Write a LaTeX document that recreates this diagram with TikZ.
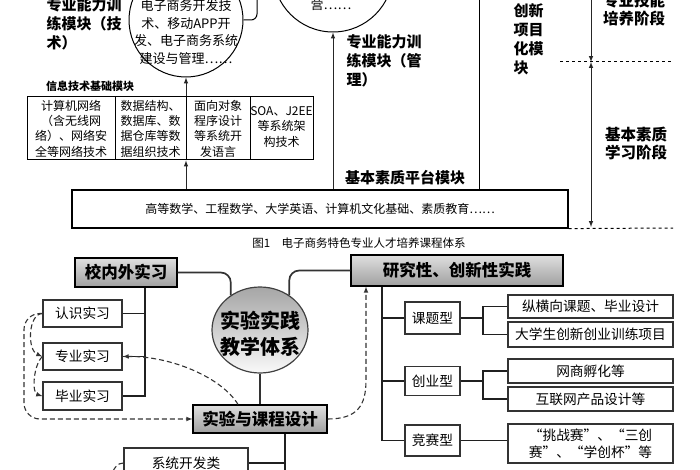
\documentclass[tikz,border=0pt]{standalone}
\usepackage{fontspec}
\setmainfont{Noto Sans CJK SC}
\usetikzlibrary{shapes.geometric}

\newcommand{\pxfont}[2]{\fontsize{#1}{#2}\selectfont}

\tikzset{
  lbl/.style={font=\pxfont{15}{19}\bfseries},
  cell/.style={align=center, font=\pxfont{12}{15.3}},
  arr/.style={-latex, line width=1pt, black!85},
  headbox/.style={draw=black, line width=1.2pt, top color=gray!25, bottom color=gray!75, inner sep=0, font=\pxfont{16.5}{20}\bfseries},
  typebox/.style={draw=gray!40!black, line width=1.3pt, fill=white, inner sep=0, font=\pxfont{13.7}{17}},
  leafbox/.style={typebox, minimum width=165},
  link/.style={line width=1.7pt, black!80},
  twig/.style={line width=1.1pt, gray!25!black},
  dlink/.style={-latex, line width=1.1pt, black!80, dash pattern=on 5pt off 3pt}
}

\begin{document}
\begin{tikzpicture}[x=1pt, y=-1pt]
\useasboundingbox (0,0) rectangle (700,470);

\coordinate (colit) at (186,0);
\coordinate (colmg) at (333,0);
\coordinate (colinn) at (479,-5);
\coordinate (techtop) at (257,-5);

\node (techlbl) at (43,24) [anchor=west, align=left, lbl] {专业能力训\\练模块（技\\术）};
\node (circtech) at (186,20) [circle, draw, line width=1pt, minimum size=114, inner sep=0] {};
\node (techtxt) at (186,32) [align=center, font=\pxfont{13}{17.5}] {电子商务开发技\\术、移动APP开\\发、电子商务系统\\建设与管理……};
\draw [line width=1pt, rounded corners=6] (circtech.east) -| (techtop);

\node (circmgmt) at (333,-28) [circle, draw, line width=1pt, minimum size=120, inner sep=0] {};
\node (mgmttxt) at (331,5) [font=\pxfont{13}{17.5}] {营……};
\node (mgmtlbl) at (343,61) [anchor=west, align=left, lbl] {专业能力训\\练模块（管\\理）};

\node (ittitle) at (90,86) [font=\pxfont{11}{13}\bfseries] {信息技术基础模块};
\node (itable) at (170,128.5) [draw, line width=1pt, minimum width=286, minimum height=63, inner sep=0] {};
\foreach \x in {115,186,250}
  \draw [line width=1pt] (\x,97) -- (\x,160);
\node (cnet) at (71,128.5) [cell] {计算机网络\\（含无线网\\络）、网络安\\全等网络技术};
\node (cdata) at (150.5,128.5) [cell] {数据结构、\\数据库、数\\据仓库等数\\据组织技术};
\node (coop) at (218,128.5) [cell] {面向对象\\程序设计\\等系统开\\发语言};
\node (csoa) at (281.5,127) [cell] {SOA、J2EE\\等系统架\\构技术};

\node (basebox) at (320,209) [draw, line width=1.2pt, minimum width=496, minimum height=38, font=\pxfont{12}{14}] {高等数学、工程数学、大学英语、计算机文化基础、素质教育……};
\node (platlbl) at (405,178) [lbl] {基本素质平台模块};

\draw [arr] (basebox.north -| colit) -- (itable.south -| colit);
\draw [arr] (itable.north -| colit) -- (circtech.south);
\draw [arr] (basebox.north -| colmg) -- (circmgmt.south);
\draw [line width=1pt] (basebox.north -| colinn) -- (colinn);

\node (innolbl) at (510,39) [anchor=west, align=left, font=\pxfont{15}{19}\bfseries] {创新\\项目\\化模\\块};

\coordinate (stgtop) at (591,-5);
\coordinate (stgmid) at (591,62);
\coordinate (stgbot) at (591,227);
\draw [arr] (stgtop) -- (stgmid);
\draw [arr, latex-latex] (stgmid) -- (stgbot);
\draw [line width=1pt, dashed] (560,62) -- (673,62);
\draw [line width=1pt, dashed] (basebox.south east) -- (673,228);
\node (stgskill) at (634,10) [align=center, font=\pxfont{15.5}{18}\bfseries] {专业技能\\培养阶段};
\node (stgbase) at (636,144) [align=center, font=\pxfont{15.5}{18}\bfseries] {基本素质\\学习阶段};

\node (caption) at (359,243) [font=\pxfont{11.5}{13}] {图1\quad 电子商务特色专业人才培养课程体系};

\node (hub) at (260,330) [ellipse, minimum width=96, minimum height=86, draw=gray!50!black, line width=1.2pt, top color=gray!70, bottom color=gray!5] {};
\node (hubtxt) at (260,334) [align=center, font=\pxfont{20}{26}\bfseries] {实验实践\\教学体系};

\node (campus) at (126,272.5) [headbox, minimum width=102, minimum height=29] {校内外实习};
\node (research) at (457,270.5) [headbox, minimum width=212, minimum height=31] {研究性、创新性实践};
\node (lab) at (260,419) [headbox, minimum width=134, minimum height=28] {实验与课程设计};

\node (aware) at (82.5,313.5) [typebox, minimum width=79, minimum height=27] {认识实习};
\node (major) at (82.5,356.5) [typebox, minimum width=79, minimum height=27] {专业实习};
\node (grad) at (82.5,396) [typebox, minimum width=79, minimum height=28] {毕业实习};
\node (sysdev) at (186,463) [typebox, minimum width=124, minimum height=30] {系统开发类};

\node (topic) at (432.5,318) [typebox, minimum width=55, minimum height=32] {课题型};
\node (venture) at (432.5,381) [typebox, minimum width=55, minimum height=29] {创业型};
\node (contest) at (432.5,440.5) [typebox, minimum width=55, minimum height=31] {竞赛型};
\node (proj) at (590.5,306.5) [leafbox, minimum height=23] {纵横向课题、毕业设计};
\node (train) at (590.5,334.5) [leafbox, minimum height=25] {大学生创新创业训练项目};
\node (incub) at (590.5,371) [leafbox, minimum height=24] {网商孵化等};
\node (netprod) at (590.5,399) [leafbox, minimum height=24] {互联网产品设计等};
\node (contests) at (590.5,443.5) [leafbox, minimum height=39, align=center] {“挑战赛”、“三创\\赛”、“学创杯”等};

\draw [link, rounded corners=10] (campus.east) -| (hub.130);
\draw [link, rounded corners=10] (hub.50) |- (research.west);
\draw [link] (hub.south) -- (lab.north);

\coordinate (camptrunk) at (145,0);
\draw [twig] (campus.south -| camptrunk) |- (grad.east);
\draw [twig] (aware.east) -- (aware.east -| camptrunk);
\draw [twig] (major.east) -- (major.east -| camptrunk);

\coordinate (labtrunk) at (285,478);
\draw [twig] (lab.south -| labtrunk) -- (labtrunk);
\draw [twig] (sysdev.east) -- (sysdev.east -| labtrunk);

\coordinate (restrunk) at (382,0);
\coordinate (subtrunk) at (483,0);
\draw [twig] (research.south -| restrunk) |- (contest.west);
\draw [twig] (topic.west) -- (topic.west -| restrunk);
\draw [twig] (venture.west) -- (venture.west -| restrunk);
\draw [twig] (topic.east) -- (topic.east -| subtrunk);
\draw [twig] (proj.west) -| (train.west -| subtrunk) -- (train.west);
\draw [twig] (venture.east) -- (venture.east -| subtrunk);
\draw [twig] (incub.west) -| (netprod.west -| subtrunk) -- (netprod.west);
\draw [twig] (contest.east) -- (contest.east -| contests.west);

\coordinate (resx) at (366,0);
\coordinate (sysdevout) at (110,478);
\draw [dlink] (aware.west) .. controls (28,314) and (27,350) .. (major.west);
\draw [dlink] (major.west) .. controls (33,366) and (32,393) .. (grad.west);
\draw [dlink, rounded corners=16] (aware.west) -| (24,419) -- (lab.west);
\draw [dlink] ([xshift=-22pt]lab.north) .. controls (222,378) and (172,356) .. (major.east);
\draw [dlink] (lab.east) .. controls (358,419) and (366,405) .. (366,380) -- (research.south -| resx);
\draw [dlink, -] (sysdev.west) .. controls (117,463) and (114,468) .. (sysdevout);

\end{tikzpicture}
\end{document}
